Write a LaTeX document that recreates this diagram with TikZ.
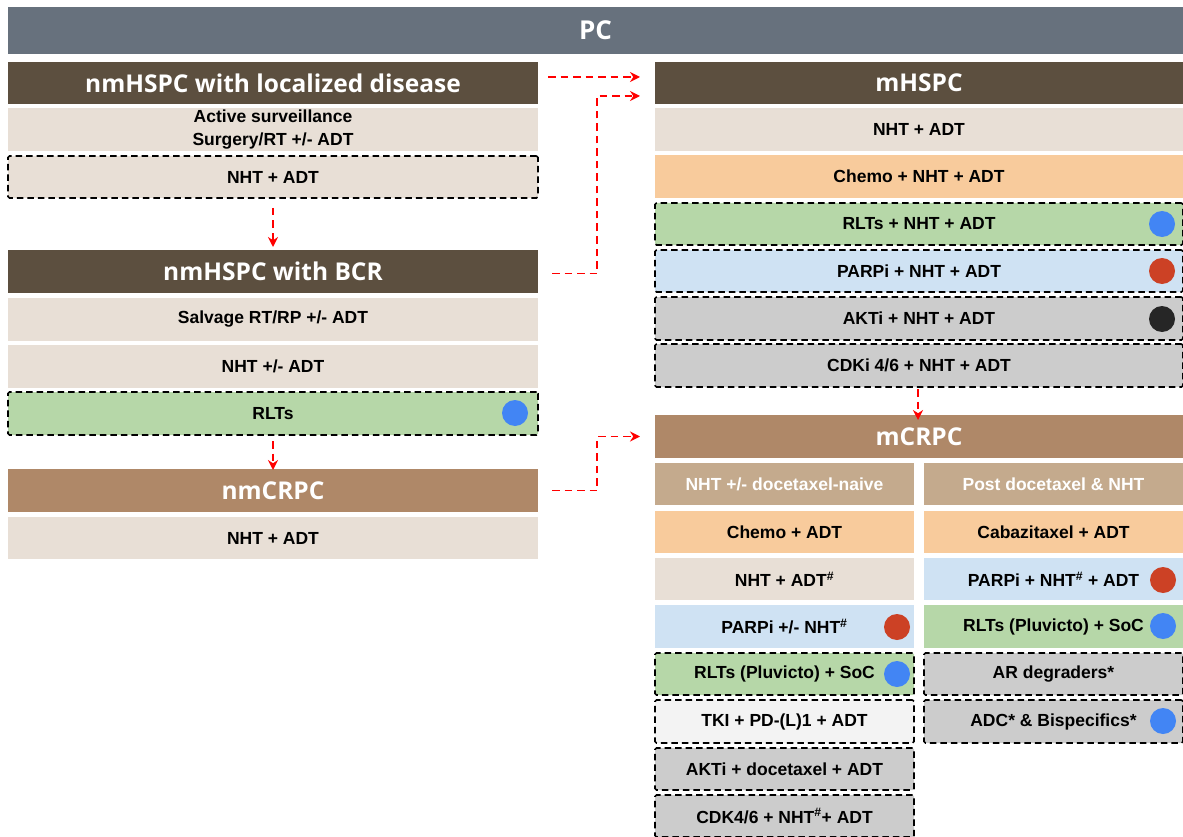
\documentclass[tikz,border=0pt]{standalone}
\usepackage{fontspec}
\usetikzlibrary{arrows.meta,calc}
\newfontfamily\hfont{Open Sans}
\newfontfamily\bfont{Liberation Sans}
\definecolor{pcgrey}{HTML}{67717D}
\definecolor{dbrown}{HTML}{5C4F3F}
\definecolor{lbrown}{HTML}{AF8868}
\definecolor{sbrown}{HTML}{C4AA8D}
\definecolor{beige}{HTML}{E8DFD6}
\definecolor{orng}{HTML}{F8CB9C}
\definecolor{grn}{HTML}{B6D7A8}
\definecolor{lblue}{HTML}{CFE2F3}
\definecolor{gry}{HTML}{CCCCCC}
\definecolor{lgry}{HTML}{F3F3F3}
\definecolor{cblue}{HTML}{4285F4}
\definecolor{cred}{HTML}{CC4125}
\definecolor{cblack}{HTML}{262626}
\newcommand{\bx}[7]{\node[#2, minimum width={(#5-#3)*1pt}, minimum height={(#6-#4)*1pt}] (#1) at ({(#3+#5)/2},{(#4+#6)/2}) {#7};}
\newcommand{\hs}{\textsuperscript{\#}}
\begin{document}
\begin{tikzpicture}[x=1pt,y=-1pt,
  box/.style={inner sep=0pt, outer sep=0pt, text=black, align=center, font=\bfont\bfseries\fontsize{17.5}{23}\selectfont},
  dbox/.style={box, draw=black, dash pattern=on 6.5pt off 4pt, line width=1.7pt, rounded corners=1.5pt},
  hdr/.style={inner sep=0pt, outer sep=0pt, text=white, font=\hfont\bfseries\fontsize{24.5}{30}\selectfont},
  sub/.style={box, text=white},
  dot/.style={circle, inner sep=0pt, minimum size=26pt},
  redarr/.style={draw=red, line width=1.8pt, dash pattern=on 7.5pt off 5pt, -{Stealth[length=10pt,width=10pt]}}
]
\useasboundingbox (0,0) rectangle (1183,837);
% top bar
\bx{pc}{hdr, fill=pcgrey, font=\hfont\bfseries\fontsize{26}{30}\selectfont}{8}{7}{1183}{54}{PC}
% left column
\bx{loc}{hdr, fill=dbrown}{8}{62}{538}{104}{nmHSPC with localized disease}
\bx{loc1}{box, fill=beige}{8}{108}{538}{151}{Active surveillance\\Surgery/RT +/- ADT}
\bx{loc2}{dbox, fill=beige}{8}{156}{538}{198}{NHT + ADT}
\bx{bcr}{hdr, fill=dbrown}{8}{250}{538}{293}{nmHSPC with BCR}
\bx{bcr1}{box, fill=beige}{8}{298}{538}{341}{Salvage RT/RP +/- ADT}
\bx{bcr2}{box, fill=beige}{8}{345}{538}{388}{NHT +/- ADT}
\bx{rlt}{dbox, fill=grn}{8}{392}{538}{435}{RLTs}
\node[dot, fill=cblue] (d1) at (515,413) {};
\bx{nmc}{hdr, fill=lbrown}{8}{469}{538}{512}{nmCRPC}
\bx{nmc1}{box, fill=beige}{8}{517}{538}{559}{NHT + ADT}
% mHSPC column
\bx{mh}{hdr, fill=dbrown}{655}{62}{1183}{104}{mHSPC}
\bx{mh1}{box, fill=beige}{655}{108}{1183}{151}{NHT + ADT}
\bx{mh2}{box, fill=orng}{655}{155}{1183}{198}{Chemo + NHT + ADT}
\bx{mh3}{dbox, fill=grn}{655}{203}{1183}{245}{RLTs + NHT + ADT}
\bx{mh4}{dbox, fill=lblue}{655}{250}{1183}{292}{PARPi + NHT + ADT}
\bx{mh5}{dbox, fill=gry}{655}{297}{1183}{340}{AKTi + NHT + ADT}
\bx{mh6}{dbox, fill=gry}{655}{344}{1183}{387}{CDKi 4/6 + NHT + ADT}
\node[dot, fill=cblue] (d2) at (1162,224) {};
\node[dot, fill=cred] (d3) at (1162,271) {};
\node[dot, fill=cblack] (d4) at (1162,319) {};
% mCRPC
\bx{mc}{hdr, fill=lbrown}{655}{415}{1183}{458}{mCRPC}
\bx{ma}{sub, fill=sbrown}{655}{463}{914}{505}{NHT +/- docetaxel-naive}
\bx{mb}{sub, fill=sbrown}{924}{463}{1183}{505}{Post docetaxel \& NHT}
\bx{ma1}{box, fill=orng}{655}{511}{914}{553}{Chemo + ADT}
\bx{ma2}{box, fill=beige}{655}{558}{914}{600}{NHT + ADT\hs}
\bx{ma3}{box, fill=lblue}{655}{605}{914}{648}{PARPi +/- NHT\hs}
\bx{ma4}{dbox, fill=grn}{655}{653}{914}{695}{RLTs (Pluvicto) + SoC}
\bx{ma5}{dbox, fill=lgry}{655}{700}{914}{743}{TKI + PD-(L)1 + ADT}
\bx{ma6}{dbox, fill=gry}{655}{748}{914}{790}{AKTi + docetaxel + ADT}
\bx{ma7}{dbox, fill=gry}{655}{795}{914}{837}{CDK4/6 + NHT\hs+ ADT}
\bx{mb1}{box, fill=orng}{924}{511}{1183}{553}{Cabazitaxel + ADT}
\bx{mb2}{box, fill=lblue}{924}{558}{1183}{600}{PARPi + NHT\hs{} + ADT}
\bx{mb3}{box, fill=grn}{924}{605}{1183}{648}{RLTs (Pluvicto) + SoC}
\bx{mb4}{dbox, fill=gry}{924}{653}{1183}{695}{AR degraders*}
\bx{mb5}{dbox, fill=gry}{924}{700}{1183}{743}{ADC* \& Bispecifics*}
\node[dot, fill=cred] (d5) at (897,627) {};
\node[dot, fill=cblue] (d6) at (897,674) {};
\node[dot, fill=cred] (d7) at (1163,580) {};
\node[dot, fill=cblue] (d8) at (1163,626) {};
\node[dot, fill=cblue] (d9) at (1163,721) {};
% arrows
\draw[redarr] ($(loc.east)+(10,-6)$) -- ($(mh.west)+(-15,-6)$);
\draw[redarr] ($(bcr.east)+(14,2)$) -- ++(45,0) |- ($(mh.west)+(-15,13)$);
\draw[redarr] ($(nmc.east)+(14,0)$) -- ++(45,0) |- ($(mc.west)+(-15,0)$);
\draw[redarr] ($(loc2.south)+(0,10)$) -- ($(bcr.north)+(0,-3)$);
\draw[redarr] ($(rlt.south)+(0,6)$) -- ($(nmc.north)+(0,1)$);
\draw[redarr] ($(mh6.south)+(-1,2)$) -- ($(mc.north)+(-1,5)$);
\end{tikzpicture}
\end{document}
